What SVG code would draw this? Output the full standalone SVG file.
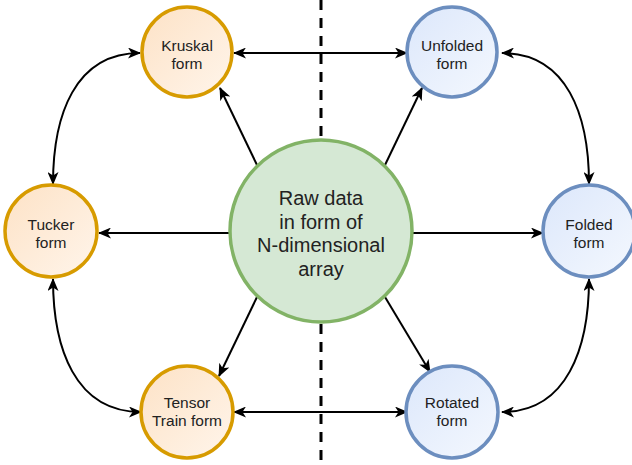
<svg xmlns="http://www.w3.org/2000/svg" width="632" height="465" viewBox="0 0 632 465">
  <defs>
    <linearGradient id="gOrange" x1="0" y1="0" x2="1" y2="1">
      <stop offset="0" stop-color="#fde2c6"/>
      <stop offset="1" stop-color="#fff5eb"/>
    </linearGradient>
    <linearGradient id="gBlue" x1="0" y1="0" x2="1" y2="1">
      <stop offset="0" stop-color="#dce7fb"/>
      <stop offset="1" stop-color="#f4f8fe"/>
    </linearGradient>
    <marker id="arrow" viewBox="0 0 13 11" refX="12" refY="5.5" markerWidth="13" markerHeight="11" markerUnits="userSpaceOnUse" orient="auto-start-reverse">
      <path d="M0,0 L13,5.5 L0,11 L3.5,5.5 Z" fill="#000"/>
    </marker>
    <style>
      .orange { fill: url(#gOrange); stroke: #d79b00; stroke-width: 3.5; }
      .blue { fill: url(#gBlue); stroke: #6c8ebf; stroke-width: 3.5; }
      .green { fill: #d5e8d4; stroke: #82b366; stroke-width: 3.5; }
      .lbl { font-family: "Liberation Sans", Arial, sans-serif; font-size: 15.5px; fill: #222; text-anchor: middle; }
      .big { font-family: "Liberation Sans", Arial, sans-serif; font-size: 20px; fill: #222; text-anchor: middle; }
      .one { fill: none; stroke: #000; stroke-width: 2; marker-end: url(#arrow); }
      .two { fill: none; stroke: #000; stroke-width: 2; marker-start: url(#arrow); marker-end: url(#arrow); }
      .divider { stroke: #000; stroke-width: 3; stroke-dasharray: 10 8; }
    </style>
  </defs>

  <rect width="632" height="465" fill="#fff"/>

  <!-- vertical dashed divider -->
  <line class="divider" x1="321" y1="0" x2="321" y2="465"/>

  <g id="connectors">
    <!-- from the raw data node -->
    <line class="one" x1="257" y1="165" x2="220" y2="88"/>
    <line class="one" x1="385" y1="165" x2="422" y2="88"/>
    <line class="one" x1="230" y1="233" x2="99" y2="233"/>
    <line class="one" x1="413" y1="233" x2="543" y2="233"/>
    <line class="one" x1="257" y1="297" x2="219" y2="376"/>
    <line class="one" x1="385" y1="297" x2="430" y2="372"/>
    <!-- between the forms -->
    <line class="two" x1="234" y1="53" x2="407" y2="53"/>
    <line class="two" x1="234" y1="412" x2="407" y2="412"/>
    <path class="two" d="M53,184 C53,115 75,53 140,53"/>
    <path class="two" d="M502,53 C567,53 589,115 589,184"/>
    <path class="two" d="M53,279 C53,348 75,412 141,412"/>
    <path class="two" d="M589,279 C589,348 567,412 502,412"/>
  </g>

  <g id="raw-data">
    <circle class="green" cx="321" cy="231" r="91"/>
    <text class="big" x="321" y="205">Raw data</text>
    <text class="big" x="321" y="229">in form of</text>
    <text class="big" x="321" y="252">N-dimensional</text>
    <text class="big" x="321" y="276">array</text>
  </g>

  <g id="kruskal">
    <circle class="orange" cx="187" cy="52" r="45"/>
    <text class="lbl" x="187" y="51">Kruskal</text>
    <text class="lbl" x="187" y="69">form</text>
  </g>

  <g id="tucker">
    <circle class="orange" cx="51" cy="231" r="46"/>
    <text class="lbl" x="51" y="230">Tucker</text>
    <text class="lbl" x="51" y="248">form</text>
  </g>

  <g id="tensor-train">
    <circle class="orange" cx="187" cy="412" r="46"/>
    <text class="lbl" x="187" y="408">Tensor</text>
    <text class="lbl" x="187" y="426">Train form</text>
  </g>

  <g id="unfolded">
    <circle class="blue" cx="452" cy="52" r="45"/>
    <text class="lbl" x="452" y="51">Unfolded</text>
    <text class="lbl" x="452" y="69">form</text>
  </g>

  <g id="folded">
    <circle class="blue" cx="589" cy="231" r="46"/>
    <text class="lbl" x="589" y="230">Folded</text>
    <text class="lbl" x="589" y="248">form</text>
  </g>

  <g id="rotated">
    <circle class="blue" cx="452" cy="412" r="46"/>
    <text class="lbl" x="452" y="408">Rotated</text>
    <text class="lbl" x="452" y="426">form</text>
  </g>
</svg>
